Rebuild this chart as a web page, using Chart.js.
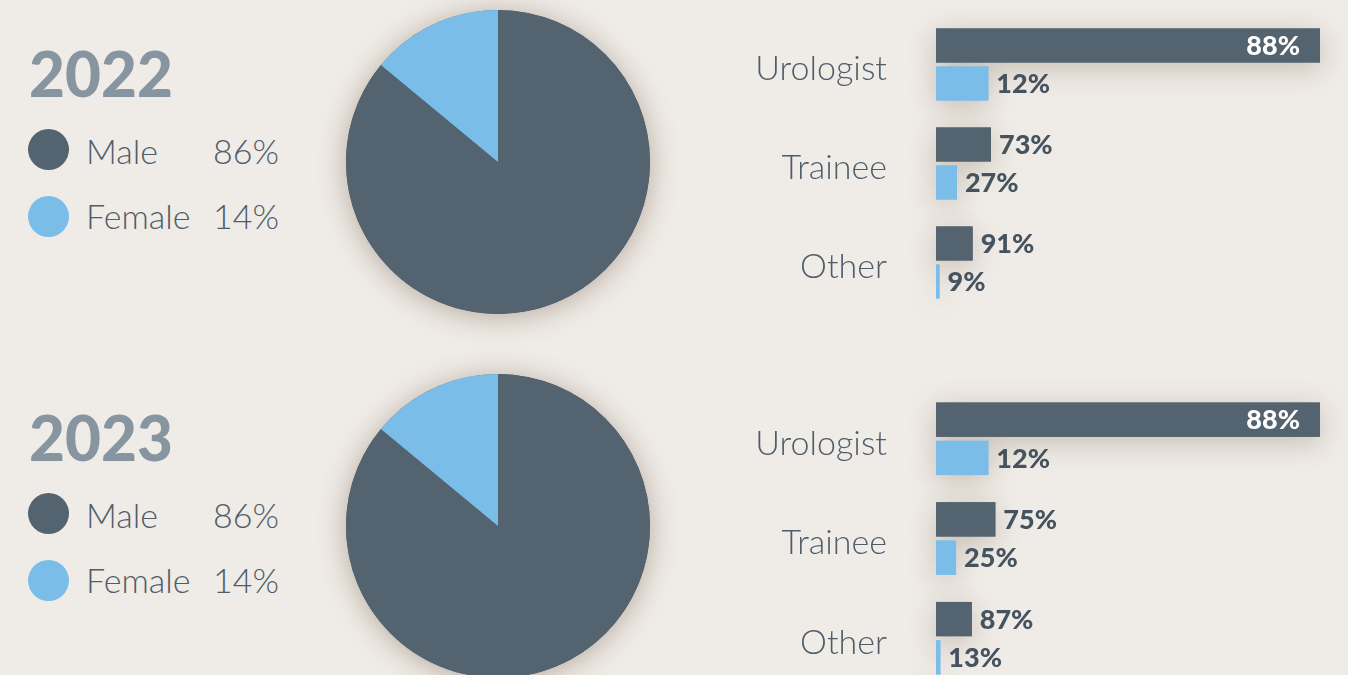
<!DOCTYPE html>
<html><head><meta charset="utf-8">
<script src="https://cdn.jsdelivr.net/npm/chart.js@4"></script>
<style>
html,body{margin:0;padding:0;width:1348px;height:675px;overflow:hidden;background:#efebe6;font-family:Lato,"Open Sans",sans-serif;position:relative;}
.abs{position:absolute;white-space:nowrap;}
.year{font-weight:900;font-size:62px;color:#8795a1;line-height:1;}
.dot{width:41px;height:41px;border-radius:50%;}
.lt{font-size:34px;font-weight:300;color:#4e5d69;line-height:1;}
.box{position:absolute;}
</style></head><body>
<script>
// ---- data ----
const years = ['2022', '2023'];
const genders = ['Male', 'Female'];
const pieShares2022 = [86, 14];
const pieShares2023 = [86, 14];
const roles = ['Urologist', 'Trainee', 'Other'];
const male2022 = [440, 63, 42];
const female2022 = [60, 24, 4];
const malePct2022 = ['88%', '73%', '91%'];
const femalePct2022 = ['12%', '27%', '9%'];
const male2023 = [440, 68, 41];
const female2023 = [60, 23, 5];
const malePct2023 = ['88%', '75%', '87%'];
const femalePct2023 = ['12%', '25%', '13%'];

// ---- style ----
const DARK = '#53636f';
const LIGHT = '#7bbde9';
const TXT = '#4e5d69';
const LBL = '#45535f';
const PADV = 75;

const rows = [
  {year: years[0], shares: pieShares2022, male: male2022, female: female2022, mp: malePct2022, fp: femalePct2022, off: 0, barTop: 15, barH: 297},
  {year: years[1], shares: pieShares2023, male: male2023, female: female2023, mp: malePct2023, fp: femalePct2023, off: 364, barTop: 389, barH: 299}
];

function el(tag, cls, style, text, parent) {
  const e = document.createElement(tag);
  if (cls) e.className = cls;
  Object.assign(e.style, style);
  if (text !== undefined && text !== null) e.textContent = text;
  (parent || document.body).appendChild(e);
  return e;
}

const pieShadow = {
  id: 'pieShadow',
  beforeDatasetsDraw(chart) {
    const a = chart.getDatasetMeta(0).data[0];
    const ctx = chart.ctx;
    ctx.save();
    ctx.shadowColor = 'rgba(115,95,75,0.45)';
    ctx.shadowBlur = 28;
    ctx.shadowOffsetY = 3;
    ctx.beginPath();
    ctx.arc(a.x, a.y, a.outerRadius, 0, Math.PI * 2);
    ctx.fillStyle = DARK;
    ctx.fill();
    ctx.restore();
  }
};

const barShadow = {
  id: 'barShadow',
  beforeDatasetsDraw(chart) {
    const ctx = chart.ctx;
    ctx.save();
    ctx.shadowColor = 'rgba(115,95,75,0.32)';
    ctx.shadowBlur = 28;
    ctx.shadowOffsetY = 6;
    chart.data.datasets.forEach((ds, di) => {
      chart.getDatasetMeta(di).data.forEach(b => {
        ctx.fillStyle = ds.backgroundColor;
        ctx.fillRect(b.base, b.y - b.height / 2, b.x - b.base, b.height);
      });
    });
    ctx.restore();
  }
};

const barLabels = {
  id: 'barLabels',
  afterDatasetsDraw(chart) {
    const ctx = chart.ctx;
    ctx.save();
    ctx.font = '900 27px Lato';
    ctx.textBaseline = 'middle';
    chart.data.datasets.forEach((ds, di) => {
      chart.getDatasetMeta(di).data.forEach((b, i) => {
        const t = ds.pctLabels[i];
        if (b.x - b.base > 120) {
          ctx.fillStyle = '#ffffff';
          ctx.textAlign = 'right';
          ctx.fillText(t, b.x - 20, b.y + 1);
        } else {
          ctx.fillStyle = LBL;
          ctx.textAlign = 'left';
          ctx.fillText(t, b.x + 8, b.y + 1);
        }
      });
    });
    ctx.restore();
  }
};

rows.forEach(r => {
  const o = r.off;
  el('div', 'abs year', {left: '29px', top: (42 + o) + 'px'}, r.year);
  el('div', 'abs dot', {left: '28px', top: (129 + o) + 'px', background: DARK});
  el('div', 'abs dot', {left: '28px', top: (196 + o) + 'px', background: LIGHT});
  el('div', 'abs lt', {left: '86px', top: (134 + o) + 'px'}, genders[0]);
  el('div', 'abs lt', {left: '86px', top: (199 + o) + 'px'}, genders[1]);
  el('div', 'abs lt', {left: '213px', top: (134 + o) + 'px'}, r.shares[0] + '%');
  el('div', 'abs lt', {left: '213px', top: (199 + o) + 'px'}, r.shares[1] + '%');

  // pie
  const pbox = el('div', 'box', {left: '298px', top: (-38 + o) + 'px', width: '400px', height: '400px'});
  const pc = el('canvas', '', {}, null, pbox);
  new Chart(pc, {
    type: 'pie',
    data: {labels: genders, datasets: [{data: r.shares, backgroundColor: [DARK, LIGHT], borderWidth: 0}]},
    options: {
      responsive: true, maintainAspectRatio: false, animation: false,
      layout: {padding: 48},
      plugins: {legend: {display: false}, tooltip: {enabled: false}}
    },
    plugins: [pieShadow]
  });

  // bars
  const bbox = el('div', 'box', {left: '700px', top: (r.barTop - PADV) + 'px', width: '648px', height: (r.barH + 2 * PADV) + 'px'});
  const bc = el('canvas', '', {}, null, bbox);
  new Chart(bc, {
    type: 'bar',
    data: {
      labels: roles,
      datasets: [
        {label: genders[0], data: r.male, pctLabels: r.mp, backgroundColor: DARK, barPercentage: 0.895, categoryPercentage: 0.768},
        {label: genders[1], data: r.female, pctLabels: r.fp, backgroundColor: LIGHT, barPercentage: 0.895, categoryPercentage: 0.768}
      ]
    },
    options: {
      indexAxis: 'y', responsive: true, maintainAspectRatio: false, animation: false,
      layout: {padding: {top: PADV, bottom: PADV, right: 28}},
      plugins: {legend: {display: false}, tooltip: {enabled: false}},
      scales: {
        x: {display: false, min: 0, max: Math.max(...male2022, ...male2023)},
        y: {
          grid: {display: false, drawTicks: false}, border: {display: false},
          ticks: {padding: 49, labelOffset: 5, color: TXT, font: {family: 'Lato', size: 34, weight: 300}},
          afterFit(s) { s.width = 236; }
        }
      }
    },
    plugins: [barShadow, barLabels]
  });
});
</script>
</body></html>
